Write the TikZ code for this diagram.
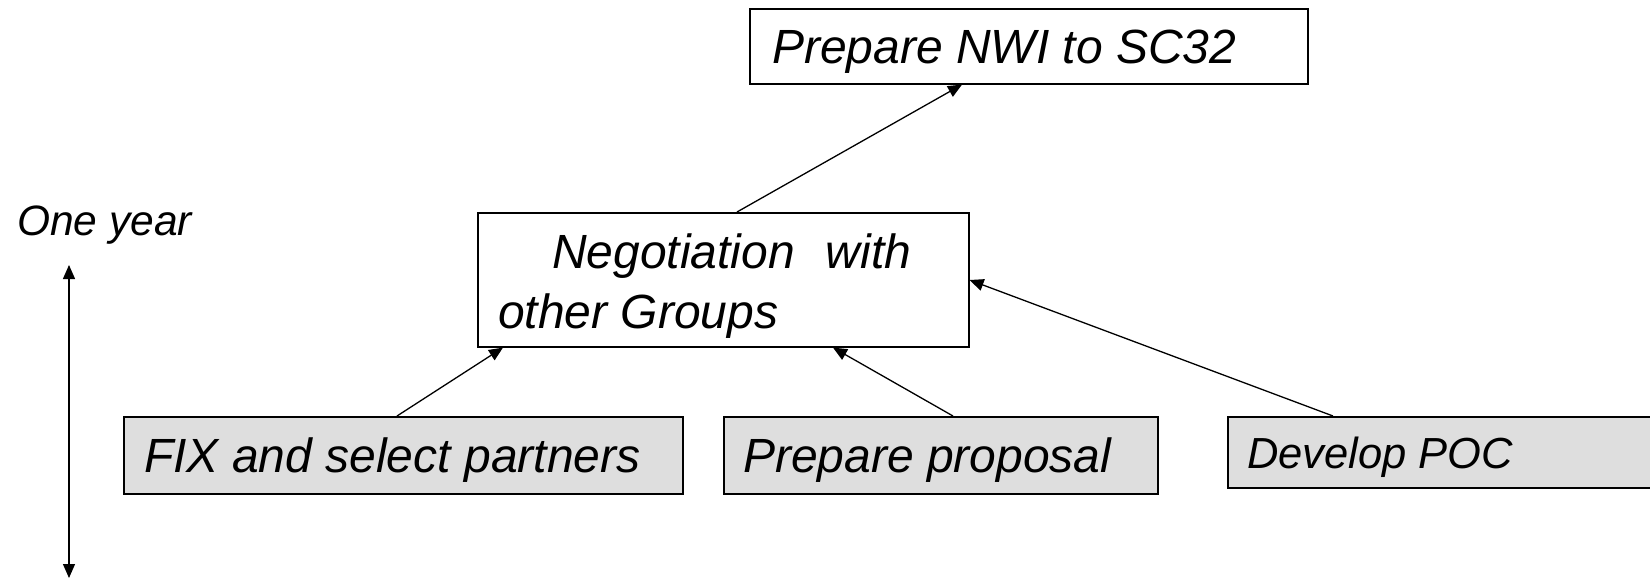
\documentclass[tikz,border=0pt]{standalone}
\usepackage{fontspec}
\setmainfont{Liberation Sans}
\usetikzlibrary{arrows.meta,calc}

\definecolor{boxgray}{RGB}{222,222,222}

\tikzset{
  plainbox/.style={draw=black, line width=1.6pt, fill=white, inner sep=0pt, anchor=north west},
  graybox/.style={draw=black, line width=1.6pt, fill=boxgray, inner sep=0pt, anchor=north west},
  lbl/.style={inner sep=0pt, anchor=base west, font=\fontsize{48}{58}\selectfont\itshape},
  link/.style={draw=black, line width=1.3pt, -{Triangle[length=14pt,width=12pt]}},
}

\begin{document}
\begin{tikzpicture}[x=1pt, y=-1pt]
  \clip (0,0) rectangle (1650,579);
  \useasboundingbox (0,0) rectangle (1650,579);

  % boxes
  \node[plainbox, minimum width=558pt, minimum height=75pt] (nwi) at (749,8) {};
  \node[plainbox, minimum width=491pt, minimum height=134pt] (neg) at (477,212) {};
  \node[graybox, minimum width=559pt, minimum height=77pt] (fix) at (123,416) {};
  \node[graybox, minimum width=434pt, minimum height=77pt] (prop) at (723,416) {};
  \node[graybox, minimum width=440pt, minimum height=71pt] (poc) at (1227,416) {};

  % labels
  \node[lbl] (nwitxt) at (772,63) {Prepare NWI to SC32};
  \node[lbl] (negtxta) at (552,268) {Negotiation\hspace{31pt}with};
  \node[lbl] (negtxtb) at (498,328) {other Groups};
  \node[lbl] (fixtxt) at (144,472) {FIX and select partners};
  \node[lbl] (proptxt) at (743,472) {Prepare proposal};
  \node[lbl, font=\fontsize{43.5}{52}\selectfont\itshape] (poctxt) at (1247,468) {Develop POC};
  \node[lbl, font=\fontsize{42.5}{51}\selectfont\itshape] (yeartxt) at (17,235) {One year};

  % connectors
  \draw[link] ($(fix.north west)+(274,0)$) -- ($(neg.south west)+(26,0)$);
  \draw[link] ($(prop.north west)+(230,0)$) -- ($(neg.south west)+(356,0)$);
  \draw[link] ($(poc.north west)+(106,0)$) -- ($(neg.north east)+(0,68)$);
  \draw[link] ($(neg.north west)+(260,0)$) -- ($(nwi.south west)+(213,0)$);

  % time span
  \coordinate (spantop) at (69,265);
  \coordinate (spanbot) at (69,578);
  \draw[line width=1.3pt, {Triangle[length=14pt,width=12pt]}-{Triangle[length=14pt,width=12pt]}] (spantop) -- (spanbot);
\end{tikzpicture}
\end{document}
